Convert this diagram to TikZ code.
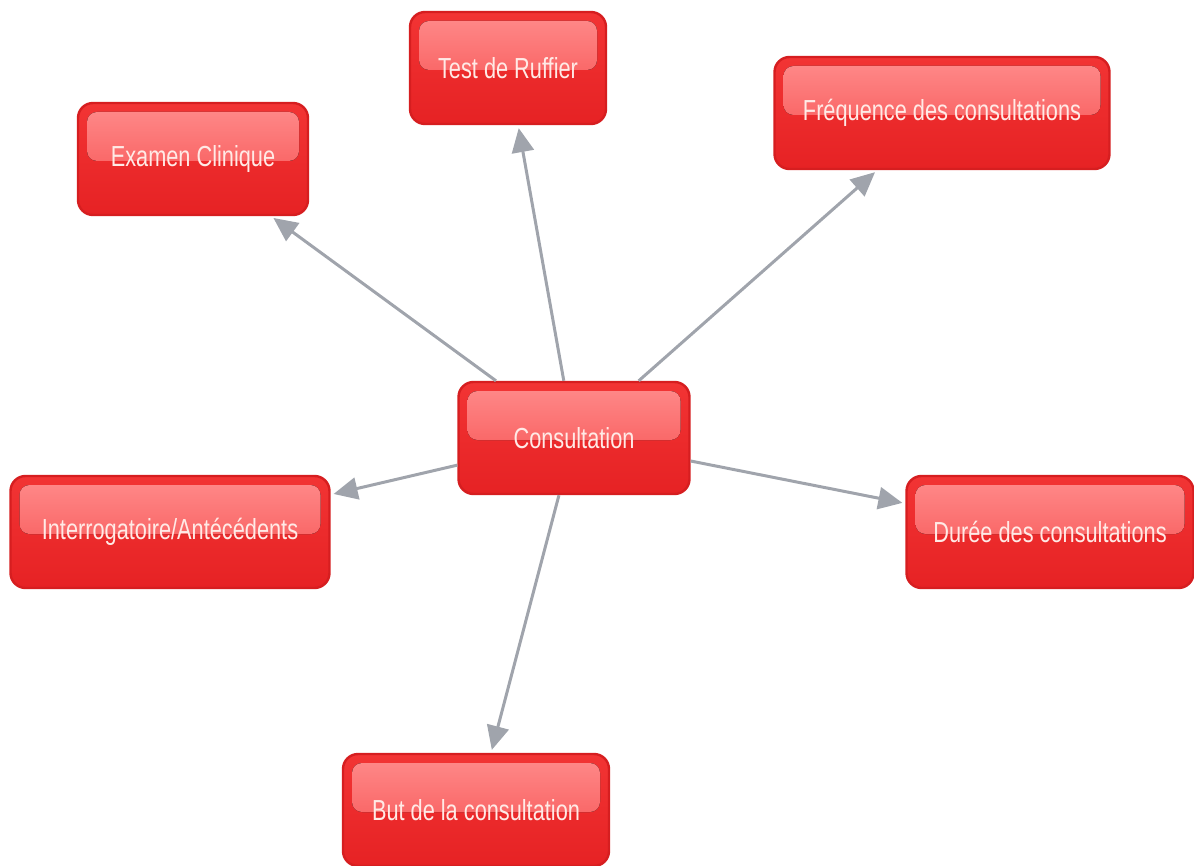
\documentclass[tikz,border=0pt]{standalone}
\usepackage{fontspec}
\setsansfont[FakeStretch=0.75]{Liberation Sans}
\usetikzlibrary{arrows.meta,calc}

\definecolor{boxred}{RGB}{230,34,36}
\definecolor{boxmid}{RGB}{242,52,52}
\definecolor{boxedge}{RGB}{214,30,32}
\definecolor{boxlight}{RGB}{255,140,140}
\definecolor{boxglow}{RGB}{245,72,72}
\definecolor{boxtext}{RGB}{255,234,230}
\definecolor{linkgray}{RGB}{160,164,172}

\tikzset{
  glossy/.style={rounded corners=7.5pt, draw=boxedge, line width=1.2pt,
    top color=boxmid, bottom color=boxred, text=boxtext,
    font=\sffamily\fontsize{14.5}{17}\selectfont,
    minimum height=56pt, inner sep=0pt,
    path picture={
      \fill[rounded corners=5pt, top color=boxlight, bottom color=boxglow]
        ($(path picture bounding box.north west)+(4.5pt,-4.5pt)$) rectangle
        ($(path picture bounding box.east)+(-4.5pt,-1pt)$);
    }},
  link/.style={draw=linkgray, line width=1.5pt,
    -{Triangle[length=12pt,width=11pt]}, shorten >=1.5pt}
}

\begin{document}
\begin{tikzpicture}[x=0.5pt,y=-0.5pt]
    \useasboundingbox (0,0) rectangle (1194,866);

    \node[glossy, minimum width=115.5pt] (cons)  at (574,438) {Consultation};
    \node[glossy, minimum width=98pt]    (test)  at (508,68)  {Test de Ruffier};
    \node[glossy, minimum width=115pt]   (exam)  at (193,159) {Examen Clinique};
    \node[glossy, minimum width=167.5pt] (freq)  at (942,113) {Fréquence des consultations};
    \node[glossy, minimum width=159.5pt] (inter) at (170,532) {Interrogatoire/Antécédents};
    \node[glossy, minimum width=143.5pt] (duree) at (1050,532) {Durée des consultations};
    \node[glossy, minimum width=133pt]   (but)   at (476,810) {But de la consultation};

    \draw[link] (cons) -- (exam);
    \draw[link] (cons) -- (test);
    \draw[link] (cons) -- (freq);
    \draw[link] (cons) -- (inter);
    \draw[link] (cons) -- (duree);
    \draw[link] (cons) -- (but);
\end{tikzpicture}
\end{document}
